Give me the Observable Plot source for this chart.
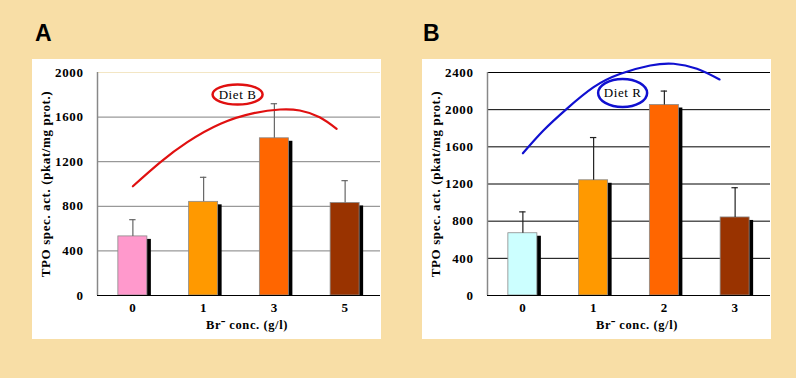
<!DOCTYPE html>
<html>
<head>
<meta charset="utf-8">
<script src="https://cdn.jsdelivr.net/npm/d3@7"></script>
<script src="https://cdn.jsdelivr.net/npm/@observablehq/plot@0.6"></script>
<style>
  html, body { margin: 0; padding: 0; }
  body { width: 796px; height: 378px; background: #f8dea6; position: relative; overflow: hidden; }
  .panel { position: absolute; background: #ffffff; width: 349px; height: 280px; }
  .letter { position: absolute; font-family: "Liberation Sans", Arial, sans-serif; font-weight: bold; font-size: 23px; color: #000; }
  svg text { letter-spacing: 0.6px; }
</style>
</head>
<body>
<div class="letter" style="left:35px; top:20px;">A</div>
<div class="letter" style="left:423px; top:20px;">B</div>
<div class="panel" id="pA" style="left:32px; top:59px;"></div>
<div class="panel" id="pB" style="left:422px; top:59px;"></div>
<script>
// ---- Data ----
const catsA = ["0", "1", "3", "5"];
const valsA = [530, 840, 1410, 830];
const sdA = [150, 220, 310, 200];
const colorsA = ["#ff99cc", "#ff9900", "#ff6600", "#993300"];
const curveAx = [0, 0.39, 0.77, 1.24, 1.71, 2.08, 2.36, 2.64, 2.88];
const curveAy = [980, 1196, 1375, 1540, 1635, 1668, 1659, 1599, 1495];
const dietA = "Diet B";
const dietAPos = [1.48, 1803];
const ticksA = [0, 400, 800, 1200, 1600, 2000];

const catsB = ["0", "1", "2", "3"];
const valsB = [670, 1240, 2050, 840];
const sdB = [230, 460, 150, 320];
const colorsB = ["#ccffff", "#ff9900", "#ff6600", "#993300"];
const curveBx = [0, 0.29, 0.62, 1.0, 1.38, 1.80, 2.13, 2.46, 2.78];
const curveBy = [1531, 1776, 2009, 2242, 2386, 2475, 2494, 2440, 2325];
const dietB = "Diet R";
const dietBPos = [1.41, 2180];
const ticksB = [0, 400, 800, 1200, 1600, 2000, 2400];

const yLabel = "TPO spec. act. (pkat/mg prot.)";
const xLabel = "Br\u207B conc. (g/l)";

function ellipseSymbol(rx, ry) {
  const k = 0.5523;
  return {
    draw(ctx) {
      ctx.moveTo(rx, 0);
      ctx.bezierCurveTo(rx, ry * k, rx * k, ry, 0, ry);
      ctx.bezierCurveTo(-rx * k, ry, -rx, ry * k, -rx, 0);
      ctx.bezierCurveTo(-rx, -ry * k, -rx * k, -ry, 0, -ry);
      ctx.bezierCurveTo(rx * k, -ry, rx, -ry * k, rx, 0);
      ctx.closePath();
    }
  };
}

function panel(cats, vals, sds, colors, cx, cy, diet, dietPos, ticks, opts) {
  const bars = cats.map((c, i) => ({i, cat: c, v: vals[i], hi: vals[i] + sds[i]}));
  const curve = cx.map((x, k) => ({x, y: cy[k]}));
  const ymax = ticks[ticks.length - 1];
  const hw = 0.205;
  return Plot.plot({
    width: 349,
    height: 280,
    marginLeft: 65,
    marginRight: 1,
    marginTop: 13,
    marginBottom: 44,
    style: {fontFamily: "'Liberation Serif', 'Times New Roman', serif", fontSize: "13px", fontWeight: "bold", background: "transparent", color: "#000"},
    x: {type: "linear", domain: [-0.5, 3.5], ticks: [0, 1, 2, 3], tickFormat: i => cats[i], tickSize: 0, tickPadding: 7, label: null},
    y: {domain: [0, ymax], ticks: ticks, tickFormat: d => String(d), tickSize: 0, tickPadding: 14, label: null},
    color: {type: "ordinal", domain: cats, range: colors},
    marks: [
      Plot.ruleY(ticks.filter(t => t > 0 && t < ymax), {stroke: opts.grid, strokeWidth: 1, strokeOpacity: 1}),
      Plot.ruleY([ymax], {stroke: opts.top, strokeWidth: 1, strokeOpacity: 1}),
      Plot.rectY(bars, {x1: d => d.i - hw, x2: d => d.i + hw, y: "v", dx: 4, insetTop: 3, fill: "#000"}),
      Plot.rectY(bars, {x1: d => d.i - hw, x2: d => d.i + hw, y: "v", fill: "cat", stroke: "#8a8a8a", strokeWidth: 0.8}),
      Plot.ruleX(bars, {x: "i", y1: "v", y2: "hi", stroke: opts.err, strokeWidth: 1.2}),
      Plot.ruleY(bars, {y: "hi", x1: d => d.i - 0.045, x2: d => d.i + 0.045, stroke: opts.err, strokeWidth: 1.2}),
      Plot.ruleX([-0.5], {stroke: "#888", strokeWidth: 1.5}),
      Plot.ruleY([0], {stroke: "#000", strokeWidth: 1.2}),
      Plot.line(curve, {x: "x", y: "y", curve: "natural", stroke: opts.curve, strokeWidth: 2.2}),
      Plot.dot([{x: dietPos[0], y: dietPos[1]}], {x: "x", y: "y", symbol: ellipseSymbol(opts.rx, opts.ry), stroke: opts.curve, strokeWidth: 2.5, fill: "none"}),
      Plot.text([{x: dietPos[0], y: dietPos[1], t: diet}], {x: "x", y: "y", text: "t", fontSize: 13, fontWeight: "normal", fill: "#000"}),
      Plot.text([xLabel], {text: d => d, frameAnchor: "bottom", textAnchor: "middle", lineAnchor: "middle", dy: 29, dx: 8, fontSize: 12.5, fill: "#000"}),
      Plot.text([yLabel], {text: d => d, frameAnchor: "left", textAnchor: "middle", lineAnchor: "middle", rotate: -90, dx: -52, fontSize: 13, fill: "#000"})
    ]
  });
}

document.getElementById("pA").appendChild(
  panel(catsA, valsA, sdA, colorsA, curveAx, curveAy, dietA, dietAPos, ticksA,
    {grid: "#808080", top: "#f3e6c4", err: "#666", curve: "#e01010", rx: 25, ry: 10}));
document.getElementById("pB").appendChild(
  panel(catsB, valsB, sdB, colorsB, curveBx, curveBy, dietB, dietBPos, ticksB,
    {grid: "#000", top: "#000", err: "#222", curve: "#1010d0", rx: 24.5, ry: 14}));
</script>
</body>
</html>
